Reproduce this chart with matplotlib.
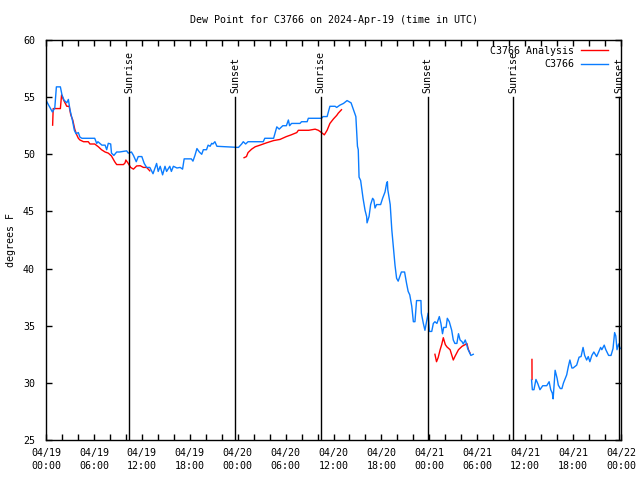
import numpy as np
import matplotlib
matplotlib.use("Agg")
import matplotlib.pyplot as plt
from matplotlib.ticker import MultipleLocator, FixedLocator

# ---- data (hours since 2024-04-19 00:00 UTC, degrees F) ----
obs_hours = [0.1, 0.8, 1.1, 1.3, 1.8, 2.0, 2.25, 2.6, 2.8, 3.0, 3.3, 3.55, 3.75, 4.05, 4.25, 4.5, 6.1, 6.35, 6.5, 7.0,
             7.4, 7.6, 7.8, 8.1, 8.2, 8.5, 8.85, 9.2, 10.1, 10.3, 10.7, 10.95, 11.3, 11.55, 12.0, 12.3, 12.6, 13.0, 13.4, 13.85,
             14.05, 14.3, 14.6, 14.9, 15.1, 15.5, 15.7, 15.95, 16.4, 16.8, 17.1, 17.3, 18.2, 18.4, 18.65, 18.9, 19.2, 19.5, 19.7, 20.1,
             20.3, 20.55, 20.75, 20.9, 21.15, 21.4, 24.1, 24.5, 24.7, 25.0, 25.3, 27.2, 27.4, 28.5, 28.9, 29.2, 29.65, 30.1, 30.35, 30.5,
             30.75, 31.8, 32.0, 32.7, 32.85, 34.5, 34.7, 35.2, 35.55, 36.2, 36.4, 36.8, 37.25, 37.7, 38.2, 38.5, 38.8, 39.0, 39.1, 39.2,
             39.4, 39.5, 39.7, 39.95, 40.15, 40.2, 40.45, 40.65, 40.9, 41.05, 41.2, 41.4, 41.9, 42.15, 42.45, 42.65, 42.75, 42.8, 43.1, 43.3,
             43.5, 43.7, 43.9, 44.1, 44.35, 44.5, 44.9, 45.15, 45.35, 45.55, 45.8, 46.0, 46.2, 46.4, 46.95, 47.0, 47.25, 47.45, 47.65, 47.85,
             48.0, 48.3, 48.5, 48.7, 48.95, 49.25, 49.45, 49.65, 49.8, 50.1, 50.25, 50.5, 50.8, 51.0, 51.2, 51.45, 51.65, 51.85, 52.1, 52.25,
             52.5, 52.7, 52.8, 53.0, 53.2, 53.5, np.nan,
             60.8, 60.9, 61.1, 61.35, 61.6, 61.85, 62.2, 62.7, 63.0, 63.2, 63.4, 63.5, 63.75, 64.0, 64.15, 64.4, 64.6, 64.8, 65.2, 65.4,
             65.6, 65.85, 66.0, 66.45, 66.75, 67.0, 67.25, 67.45, 67.7, 67.9, 68.1, 68.35, 68.6, 68.95, 69.2, 69.45, 69.6, 69.9, 70.1, 70.45,
             70.75, 71.0, 71.2, 71.35, 71.5, 71.7, 71.9]
obs_dewpt = [54.6, 53.7, 54.05, 55.9, 55.9, 55.2, 54.75, 54.5, 54.8, 53.9, 53.0, 52.1, 51.8, 51.9, 51.5, 51.4, 51.4, 50.95, 51.1, 50.8,
             50.8, 50.4, 50.96, 50.9, 50.1, 49.9, 50.2, 50.2, 50.3, 50.1, 50.2, 49.9, 49.35, 49.8, 49.8, 49.2, 48.85, 48.85, 48.3, 49.2,
             48.5, 48.95, 48.2, 48.95, 48.5, 48.95, 48.5, 48.95, 48.8, 48.85, 48.7, 49.6, 49.6, 49.4, 49.9, 50.5, 50.2, 50.0, 50.4, 50.4,
             50.8, 50.7, 50.96, 50.9, 51.1, 50.7, 50.6, 50.9, 51.1, 50.9, 51.1, 51.1, 51.4, 51.4, 52.4, 52.2, 52.5, 52.5, 53.0, 52.5,
             52.7, 52.7, 52.85, 52.85, 53.15, 53.15, 53.3, 53.3, 54.2, 54.2, 54.1, 54.3, 54.45, 54.7, 54.5, 53.9, 53.3, 50.7, 50.4, 48.0,
             47.7, 47.2, 46.15, 45.1, 44.55, 44.0, 44.55, 45.6, 46.15, 46.0, 45.3, 45.6, 45.6, 46.15, 46.7, 47.45, 47.6, 46.9, 45.6, 43.4,
             41.9, 40.3, 39.15, 38.9, 39.4, 39.7, 39.7, 38.7, 38.0, 37.7, 36.7, 35.35, 35.35, 37.2, 37.2, 36.1, 35.2, 34.6, 35.35, 36.1,
             34.5, 34.5, 35.2, 35.35, 35.2, 35.8, 35.2, 34.3, 34.85, 34.85, 35.65, 35.35, 34.6, 33.75, 33.45, 33.45, 34.3, 33.75, 33.6, 33.4,
             33.75, 33.3, 33.0, 32.7, 32.4, 32.5, np.nan,
             30.25, 29.4, 29.4, 30.3, 29.9, 29.4, 29.75, 29.75, 30.1, 29.4, 29.1, 28.6, 31.1, 30.4, 29.8, 29.5, 29.5, 30.0, 30.7, 31.4,
             32.0, 31.3, 31.3, 31.55, 32.25, 32.3, 33.1, 32.4, 32.0, 32.3, 31.85, 32.4, 32.7, 32.3, 32.7, 33.1, 32.9, 33.3, 32.9, 32.4,
             32.4, 33.0, 34.4, 34.1, 32.9, 33.4, 33.0]

ana_hours = [0.83, 0.9, 1.8, 1.95, 2.2, 2.6, 2.9, 3.1, 3.35, 3.6, 3.85, 4.05, 4.25, 4.7, 5.3, 5.5, 6.1, 6.55, 6.95, 7.4,
             7.8, 8.2, 8.6, 8.85, 9.7, 9.9, 10.0, 10.3, 10.6, 10.95, 11.35, 11.8, 12.2, 12.6, 13.0, np.nan,
             24.8, 25.1, 25.3, 25.75, 26.2, 26.8, 27.6, 28.5, 29.3, 30.1, 30.7, 31.4, 31.6, 32.9, 33.7, 34.1, 34.5, 34.85, 35.2, 35.55,
             36.0, 36.4, 36.6, 37.0, np.nan,
             48.7, 48.9, 49.1, 49.35, 49.55, 49.75, 50.0, 50.2, 50.6, 51.0, 51.2, 51.65, 52.1, 52.5, 52.7, 52.9, 53.1, np.nan,
             60.85, 60.86]
ana_dewpt = [52.55, 54.0, 54.0, 55.2, 54.75, 54.2, 54.2, 53.45, 53.0, 52.2, 51.7, 51.4, 51.25, 51.1, 51.1, 50.9, 50.9, 50.66, 50.4, 50.2,
             50.1, 49.85, 49.35, 49.1, 49.1, 49.25, 49.5, 49.2, 48.85, 48.7, 48.98, 49.0, 48.85, 48.85, 48.55, np.nan,
             49.7, 49.8, 50.15, 50.45, 50.66, 50.8, 51.0, 51.2, 51.3, 51.55, 51.7, 51.9, 52.1, 52.1, 52.2, 52.1, 51.9, 51.7, 52.1, 52.7,
             53.1, 53.4, 53.6, 53.9, np.nan,
             32.5, 31.85, 32.2, 32.9, 33.35, 33.95, 33.35, 33.15, 32.9, 32.0, 32.3, 32.9, 33.2, 33.35, 33.45, 32.9, 32.6, np.nan,
             32.05, 30.3]

sun_hours = [10.4, 23.7, 34.4, 47.8, 58.5, 71.8]
sun_labels = ["Sunrise", "Sunset", "Sunrise", "Sunset", "Sunrise", "Sunset"]

xtick_hours = [0, 6, 12, 18, 24, 30, 36, 42, 48, 54, 60, 66, 72]
xtick_labels = ["04/19\n00:00", "04/19\n06:00", "04/19\n12:00", "04/19\n18:00",
                "04/20\n00:00", "04/20\n06:00", "04/20\n12:00", "04/20\n18:00",
                "04/21\n00:00", "04/21\n06:00", "04/21\n12:00", "04/21\n18:00",
                "04/22\n00:00"]

# ---- plotting ----
plt.rcParams['font.family'] = ['DejaVu Sans Mono']
FS = 7.2

fig = plt.figure(figsize=(6.4, 4.8), dpi=100)
ax = fig.add_axes([46/640, 1-440/480, 575/640, 400/480])

ax.plot(ana_hours, ana_dewpt, color="#ff0000", lw=1.0, label="C3766 Analysis")
ax.plot(obs_hours, obs_dewpt, color="#0a7cff", lw=1.0, label="C3766")

for h, lab in zip(sun_hours, sun_labels):
    ax.axvline(h, ymin=0, ymax=0.8575, color="black", lw=1.0)
    ax.text(h, 55.35, lab, rotation=90, ha="center", va="bottom", fontsize=FS)

ax.set_xlim(0, 72)
ax.set_ylim(25, 60)
ax.xaxis.set_major_locator(FixedLocator(xtick_hours))
ax.set_xticklabels(xtick_labels, fontsize=FS, linespacing=1.35)
ax.xaxis.set_minor_locator(MultipleLocator(2))
ax.yaxis.set_major_locator(MultipleLocator(5))
ax.tick_params(axis="both", which="both", direction="in", length=4, width=1,
               top=True, right=True, labelsize=FS)
ax.tick_params(axis="x", which="major", pad=6)
ax.tick_params(axis="y", which="major", pad=8)
for s in ax.spines.values():
    s.set_linewidth(1.0)

ax.set_ylabel("degrees F", fontsize=FS)
ax.yaxis.set_label_coords(-0.052, 0.5)
ax.set_title("Dew Point for C3766 on 2024-Apr-19 (time in UTC)", fontsize=FS, pad=12)

leg = ax.legend(loc="upper right", frameon=False, markerfirst=False, fontsize=FS,
                handlelength=2.7, handletextpad=0.7, labelspacing=0.35,
                borderaxespad=0.0, bbox_to_anchor=(0.985, 0.995))
for t in leg.get_texts():
    t.set_ha("right")

fig.savefig("out.png", dpi=100)
